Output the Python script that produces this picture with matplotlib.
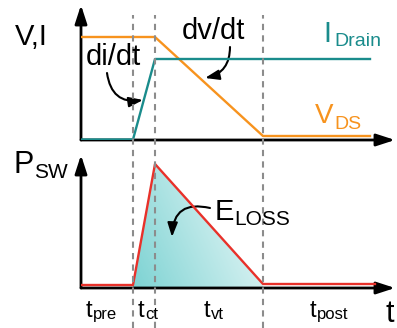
import matplotlib.pyplot as plt
import numpy as np
from matplotlib.colors import LinearSegmentedColormap

plt.rcParams['font.family'] = ['Liberation Sans', 'DejaVu Sans']

W, H = 397, 328

# time in arbitrary units (schematic waveform)
t_edges = [5.2, 7.4, 18.2]
t_sig = [0, 5.2, 7.4, 18.2, 28.9]
v_ds = [10.3, 10.3, 10.3, 0.4, 0.4]
i_drain = [0.05, 0.05, 8.1, 8.1, 8.1]
t_pow = [0, 5.2, 7.4, 18.2, 29.4]
p_sw = [0.3, 0.3, 12.4, 0.4, 0.4]
phases = ['pre', 'ct', 'vt', 'post']

orange = '#f7931e'
teal = '#1a8c8c'
red = '#e8312a'


def px(x, y):
    return x / W, 1 - y / H


fig = plt.figure(figsize=(W / 100, H / 100), dpi=100)
renderer = fig.canvas.get_renderer()


def sublabel(x, y, main, sub, size, sub_size, drop, color='k', gap=0.5):
    t = fig.text(*px(x, y), main, fontsize=size, va='baseline', color=color)
    bb = t.get_window_extent(renderer=renderer)
    fig.text(*px(bb.x1 + gap, y + drop), sub, fontsize=sub_size,
             va='baseline', color=color)


ax1 = fig.add_axes([81 / W, 1 - 140 / H, 314 / W, 135 / H])
ax2 = fig.add_axes([81 / W, 1 - 288 / H, 314 / W, 133 / H])
ov = fig.add_axes([81 / W, 0, 314 / W, 1])

for ax, top in [(ax1, 13.5), (ax2, 13.3)]:
    ax.set_xlim(0, 31.4)
    ax.set_ylim(0, top)
    ax.axis('off')
    arrow = dict(arrowstyle='-|>,head_length=0.8,head_width=0.26',
                 color='k', lw=2, mutation_scale=14, shrinkA=0, shrinkB=0)
    ax.annotate('', xy=(0, 1), xytext=(0, 0), xycoords='axes fraction',
                arrowprops=arrow)
    ax.annotate('', xy=(1, 0), xytext=(0, 0), xycoords='axes fraction',
                arrowprops=arrow)

# top panel
ax1.plot(t_sig, v_ds, color=orange, lw=1.7, zorder=5)
ax1.plot(t_sig, i_drain, color=teal, lw=1.7, zorder=5)

# bottom panel
poly = ax2.fill_between(t_pow, 0, p_sw, facecolor='none', edgecolor='none')
gx, gy = np.meshgrid(np.linspace(0, 1, 200), np.linspace(1, 0, 200))
grad = 0.7 * gx + 0.3 * gy
cmap = LinearSegmentedColormap.from_list('g', ['#7dd3d3', '#f4fbfb'])
im = ax2.imshow(grad, cmap=cmap, extent=[t_pow[1], t_pow[3], 0, p_sw[2]],
                aspect='auto', zorder=2)
im.set_clip_path(poly.get_paths()[0], transform=ax2.transData)
ax2.set_xlim(0, 31.4)
ax2.set_ylim(0, 13.3)
ax2.plot(t_pow, p_sw, color=red, lw=1.7, zorder=5)

# dashed phase boundaries
ov.set_xlim(0, 31.4)
ov.set_ylim(0, H)
ov.axis('off')
ov.patch.set_alpha(0)
ov.vlines(t_edges, 0, H - 15, colors='#8c8c8c', lw=1.5,
          linestyles=(0, (3, 2.5)))

# annotations
curl = dict(arrowstyle='-|>,head_length=0.7,head_width=0.25', color='k',
            lw=1.5, mutation_scale=12, shrinkA=0, shrinkB=0)
ax1.annotate('', xy=(6.2, 4.0), xytext=(2.6, 6.7),
             arrowprops=dict(curl, connectionstyle='arc3,rad=0.5'))
ax1.annotate('', xy=(12.4, 6.2), xytext=(14.9, 9.3),
             arrowprops=dict(curl, connectionstyle='arc3,rad=-0.4'))
ax2.annotate('', xy=(9.1, 5.1), xytext=(12.9, 8.0),
             arrowprops=dict(curl, connectionstyle='arc3,rad=0.6'))

fig.text(*px(15, 45), 'V,I', fontsize=21, va='baseline')
fig.text(*px(86, 65), 'di/dt', fontsize=21, va='baseline')
fig.text(*px(182, 39), 'dv/dt', fontsize=21, va='baseline')
sublabel(323, 42, 'I', 'Drain', 21, 14, 4, color=teal, gap=3)
sublabel(315, 123, 'V', 'DS', 20, 14, 6, color=orange, gap=1)
sublabel(13, 173, 'P', 'SW', 22, 15, 5, gap=1)
sublabel(215, 220, 'E', 'LOSS', 21, 15, 5, gap=0)
for name, x in zip(phases, [86, 138, 204, 310]):
    sublabel(x, 317, 't', name, 17, 12, 2, gap=0.5)
fig.text(*px(385, 322), 't', fontsize=22, va='baseline')

fig.savefig('out.png', dpi=100)
